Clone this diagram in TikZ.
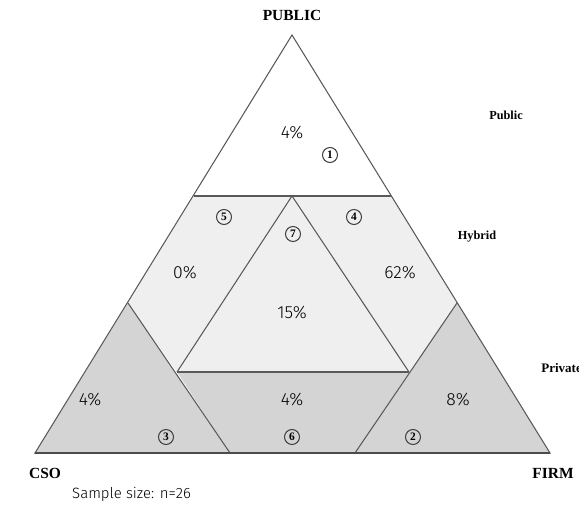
\documentclass[tikz,border=0pt]{standalone}
\usepackage{fontspec}
\setmainfont{Liberation Serif}
\setsansfont{Fira Sans Light}
\usepackage{tikz}

\definecolor{lightzone}{HTML}{EFEFEF}
\definecolor{darkzone}{HTML}{D4D4D4}
\tikzset{
  edge/.style={draw=black!65, line width=0.6pt},
  corner/.style={font=\bfseries\fontsize{8.8}{10}\selectfont},
  level/.style={font=\bfseries\fontsize{7}{8}\selectfont},
  share/.style={font=\sffamily\fontsize{10}{12}\selectfont},
  num/.style={circle, draw=black!75, line width=0.6pt, inner sep=0pt, minimum size=0.3cm, font=\bfseries\fontsize{6.5}{7}\selectfont},
}

\begin{document}
\begin{tikzpicture}[x=0.02cm,y=-0.02cm] % 7 zones
   \useasboundingbox (0,0) rectangle (579,513);
   \coordinate (apex) at (292,35);
   \coordinate (cso) at (35,453);
   \coordinate (firm) at (550,453);
   \coordinate (hl) at (194,196);
   \coordinate (hm) at (292,196);
   \coordinate (hr) at (391,196);
   \coordinate (pl) at (128,303);
   \coordinate (pr) at (457,303);
   \coordinate (ml) at (177,372);
   \coordinate (mr) at (409,372);
   \coordinate (bl) at (230,453);
   \coordinate (br) at (355,453);
   \fill[white] (apex) -- (hl) -- (hr) -- cycle;
   \fill[lightzone] (hl) -- (hr) -- (pr) -- (mr) -- (ml) -- (pl) -- cycle;
   \fill[darkzone] (pl) -- (bl) -- (cso) -- cycle;
   \fill[darkzone] (ml) -- (mr) -- (br) -- (bl) -- cycle;
   \fill[darkzone] (pr) -- (firm) -- (br) -- cycle;
   \draw[edge] (apex) -- (cso) -- (firm) -- cycle;
   \draw[edge] (hl) -- (hr);
   \draw[edge] (ml) -- (mr);
   \draw[edge] (pl) -- (bl);
   \draw[edge] (pr) -- (br);
   \draw[edge] (ml) -- (hm) -- (mr);
   \draw[black!70, line width=1.2pt] (cso) -- (firm);
   \node[corner] (public) at (292,15) {PUBLIC};
   \node[corner] (csolab) at (45,473) {CSO};
   \node[corner] (firmlab) at (553,473) {FIRM};
   \node[level] (lpub) at (506,115) {Public};
   \node[level] (lhyb) at (477,237) {Hybrid};
   \node[level, anchor=west, inner sep=0pt, font=\bfseries\fontsize{7.4}{8}\selectfont] (lpri) at (541,368) {Private};
   \node[share] (s1) at (292,133) {4\%};
   \node[share] (s5) at (185,273) {0\%};
   \node[share] (s4) at (400,273) {62\%};
   \node[share] (s7) at (292,313) {15\%};
   \node[share] (s3) at (90,400) {4\%};
   \node[share] (s6) at (292,400) {4\%};
   \node[share] (s2) at (458,400) {8\%};
   \node[num] (n1) at (330,155) {1};
   \node[num] (n5) at (224,217) {5};
   \node[num] (n7) at (293,234) {7};
   \node[num] (n4) at (354,217) {4};
   \node[num] (n3) at (166,437) {3};
   \node[num] (n6) at (292,437) {6};
   \node[num] (n2) at (413,437) {2};
   \node[share, font=\sffamily\fontsize{8.5}{10}\selectfont, anchor=west] (sample) at (66,494) {Sample size: n=26};
\end{tikzpicture}
\end{document}
